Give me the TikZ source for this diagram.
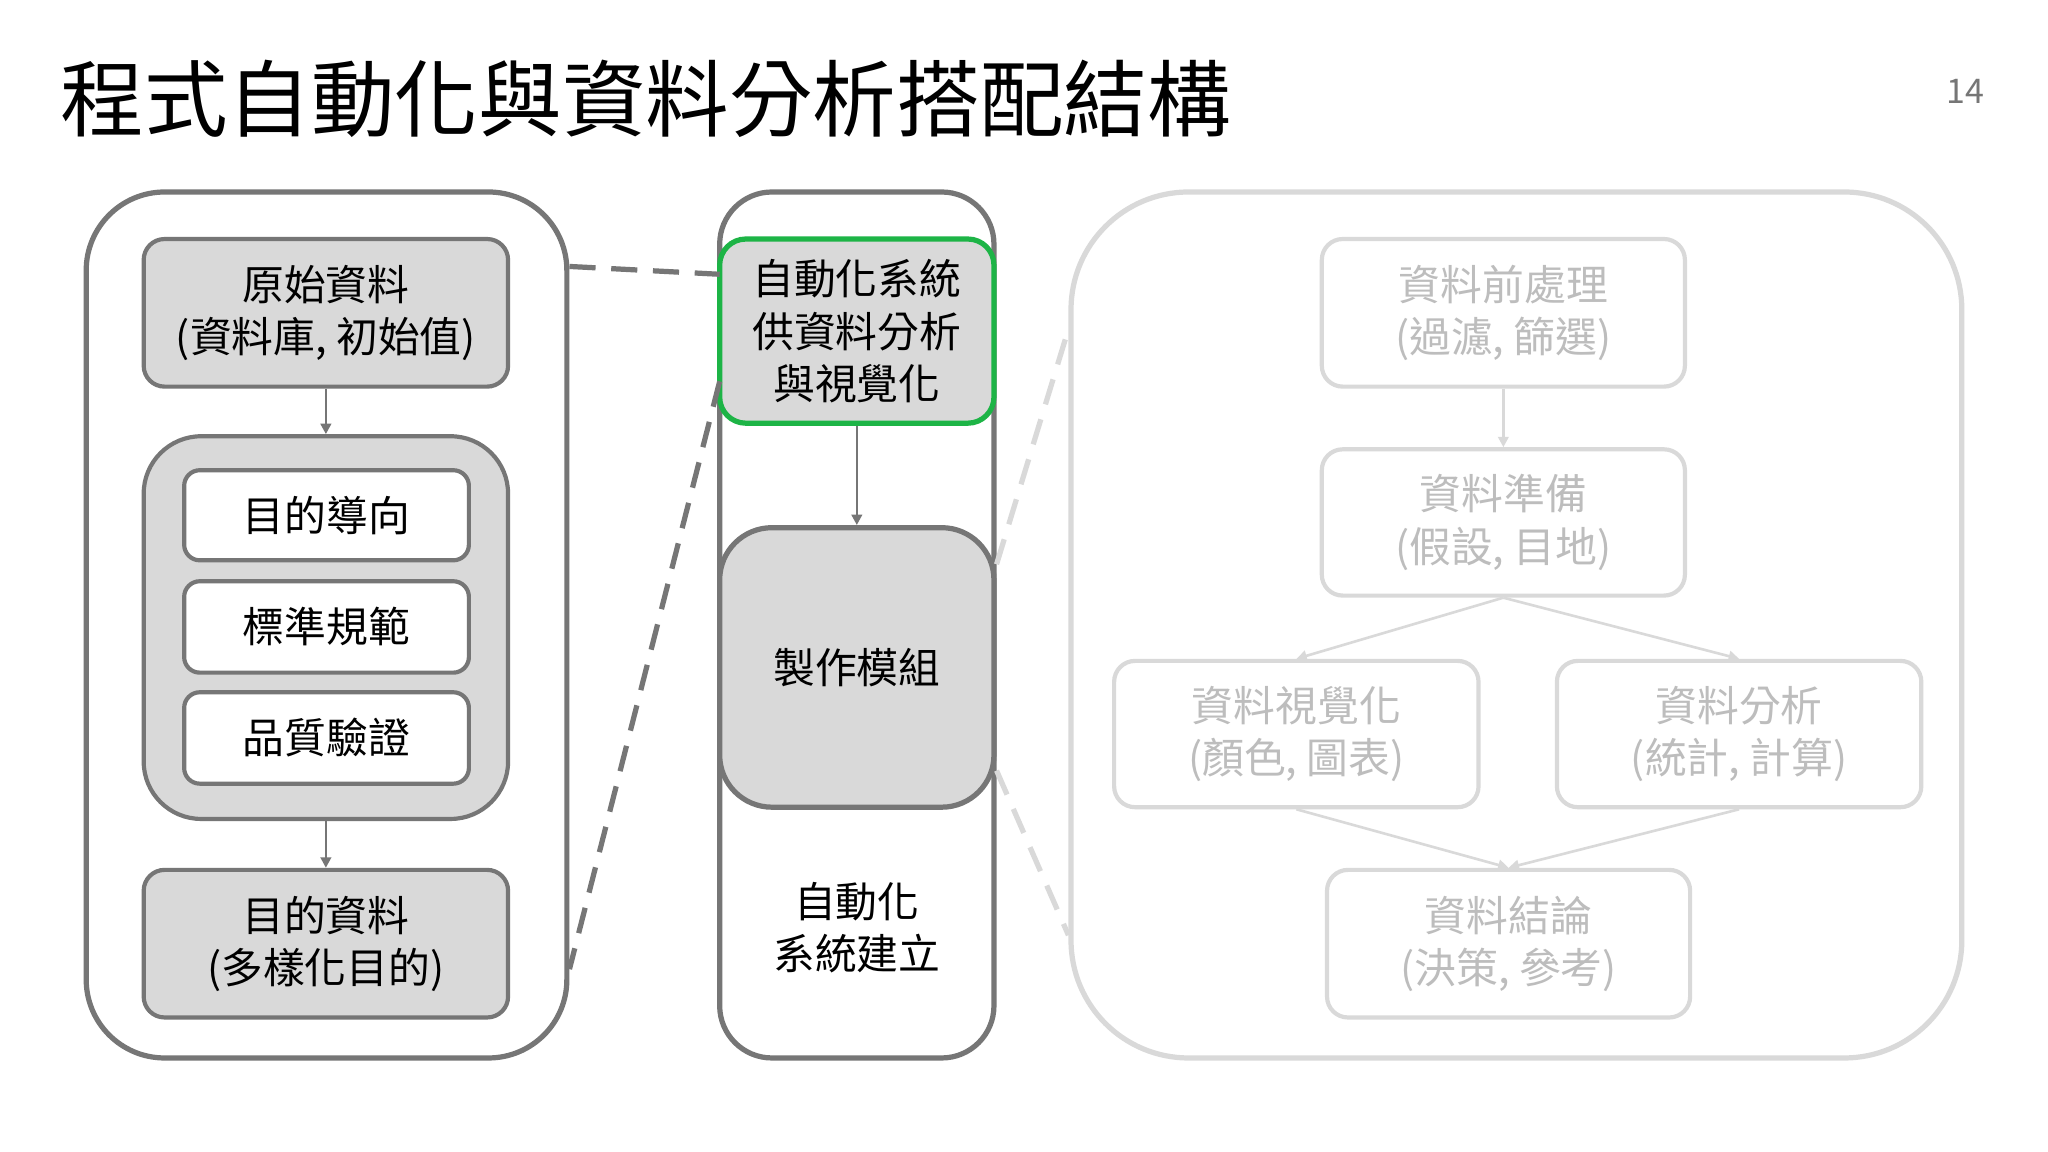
\documentclass[tikz,border=0pt]{standalone}
\usepackage{fontspec}
\setmainfont{Noto Sans CJK TC}
\usetikzlibrary{arrows.meta}
\definecolor{dk}{HTML}{767676}
\definecolor{lt}{HTML}{D9D9D9}
\definecolor{ltx}{HTML}{BDBDBD}
\definecolor{gf}{HTML}{D9D9D9}
\definecolor{grn}{HTML}{1DB446}
\begin{document}
\begin{tikzpicture}[x=0.5pt,y=-0.5pt,
 txt/.style={font=\fontsize{16pt}{20pt}\selectfont,align=center},
 gbox/.style={draw=dk,line width=1.6pt,fill=gf,rounded corners=8pt},
 wbox/.style={draw=dk,line width=1.6pt,fill=white,rounded corners=6pt},
 lbox/.style={draw=lt,line width=1.6pt,fill=white,rounded corners=8pt,text=ltx},
 arr/.style={draw=dk,line width=1pt,-{Triangle[length=4pt,width=4pt]}},
 larr/.style={draw=lt,line width=1pt,-{Triangle[length=4pt,width=4pt]}},
 dsh/.style={draw=dk,line width=2pt,dash pattern=on 10pt off 6pt},
 ldsh/.style={draw=lt,line width=2pt,dash pattern=on 10pt off 6pt}]
\useasboundingbox[fill=white] (0,0) rectangle (1568,882);
\node[anchor=base west,font=\fontsize{32pt}{36pt}\selectfont,inner sep=0] (title) at (46,100) {程式自動化與資料分析搭配結構};
\node[font=\fontsize{13pt}{15pt}\selectfont,text=dk] (pg) at (1505,70) {14};
% left
\node[draw=dk,line width=2pt,rounded corners=30pt,minimum width=184pt,minimum height=331.5pt] (L) at (250,478.5) {};
\node[gbox,txt,minimum width=139.5pt,minimum height=56.5pt] (a1) at (249.5,239.5) {原始資料\\(資料庫, 初始值)};
\node[gbox,rounded corners=22pt,minimum width=139.5pt,minimum height=146.5pt] (grp) at (249.5,480.5) {};
\node[wbox,txt,minimum width=109pt,minimum height=34.5pt] (b1) at (250,394.5) {目的導向};
\node[wbox,txt,minimum width=109pt,minimum height=35pt] (b2) at (250,480) {標準規範};
\node[wbox,txt,minimum width=109pt,minimum height=35pt] (b3) at (250,565) {品質驗證};
\node[gbox,txt,minimum width=139.5pt,minimum height=56.5pt] (a2) at (249.5,722.5) {目的資料\\(多樣化目的)};
\draw[arr] (a1.south) -- (grp.north);
\draw[arr] (grp.south) -- (a2.north);
% middle
\node[draw=dk,line width=2pt,fill=white,rounded corners=20pt,minimum width=105pt,minimum height=331.5pt] (M) at (656,478.5) {};
\node[draw=grn,line width=2pt,fill=gf,rounded corners=10pt,txt,minimum width=105pt,minimum height=70.5pt] (m1) at (656,253.5) {自動化系統\\供資料分析\\與視覺化};
\node[gbox,line width=2pt,rounded corners=20pt,txt,minimum width=105pt,minimum height=107pt] (m2) at (656,511) {製作模組};
\node[txt] (m3) at (656,710) {自動化\\系統建立};
\draw[arr] (m1.south) -- (m2.north);
\coordinate (p1) at (436,204); \coordinate (p2) at (551,210);
\coordinate (p3) at (551,292); \coordinate (p4) at (436,742);
\draw[dsh] (p1) -- (p2); \draw[dsh] (p3) -- (p4);
\coordinate (q1) at (763,432); \coordinate (q2) at (818,252);
\coordinate (q3) at (763,590); \coordinate (q4) at (818,716);
\draw[ldsh] (q1) -- (q2); \draw[ldsh] (q3) -- (q4);
% right
\node[draw=lt,line width=2pt,rounded corners=45pt,minimum width=341pt,minimum height=331.5pt] (R) at (1161,478.5) {};
\node[lbox,txt,minimum width=139pt,minimum height=56.5pt] (r1) at (1151,239.5) {資料前處理\\(過濾, 篩選)};
\node[lbox,txt,minimum width=139pt,minimum height=56pt] (r2) at (1151,400) {資料準備\\(假設, 目地)};
\node[lbox,txt,minimum width=139.5pt,minimum height=56pt] (r3) at (992.5,562) {資料視覺化\\(顏色, 圖表)};
\node[lbox,txt,minimum width=139.5pt,minimum height=56pt] (r4) at (1331.5,562) {資料分析\\(統計, 計算)};
\node[lbox,txt,minimum width=139pt,minimum height=56.5pt] (r5) at (1155,722.5) {資料結論\\(決策, 參考)};
\draw[larr] (r1.south) -- (r2.north);
\draw[larr] (r2.south) -- (r3.north);
\draw[larr] (r2.south) -- (r4.north);
\draw[larr] (r3.south) -- (r5.north);
\draw[larr] (r4.south) -- (r5.north);
\end{tikzpicture}
\end{document}
